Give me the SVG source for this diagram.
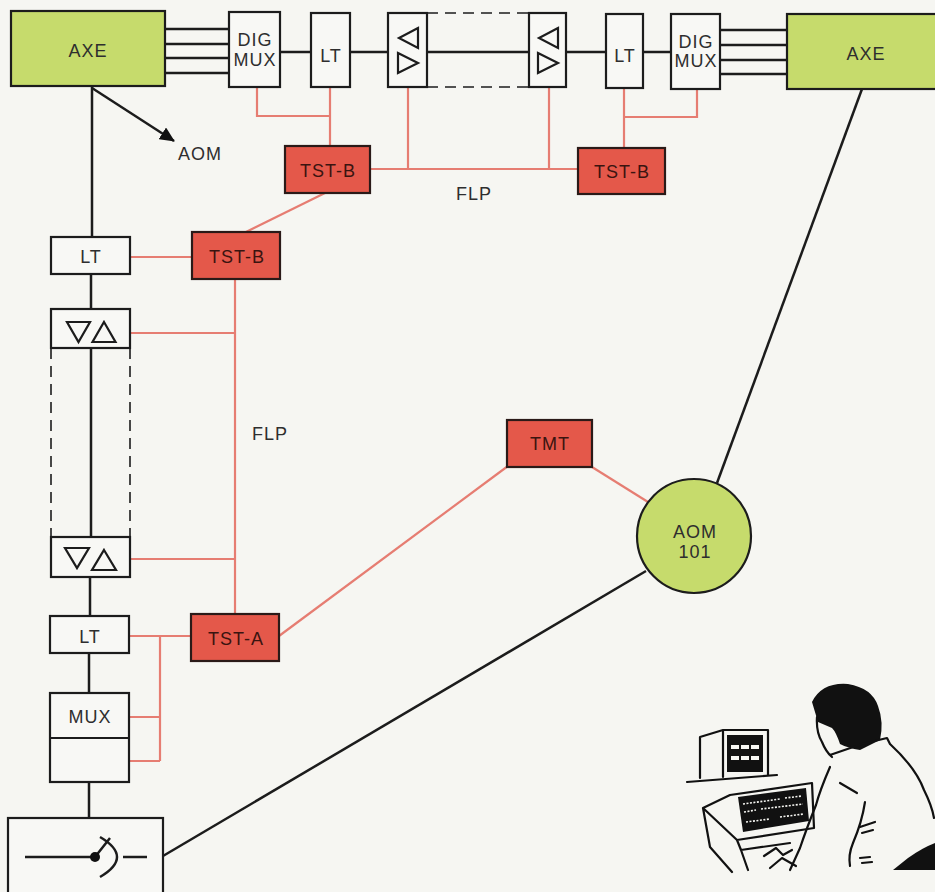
<svg xmlns="http://www.w3.org/2000/svg" width="935" height="892" viewBox="0 0 935 892">
  <style>
    .bg { fill: #f6f6f2; }
    .box { fill: #f8f8f5; stroke: #1c1c1c; stroke-width: 2.2; }
    .axe { fill: #c6db6c; stroke: #1c1c1c; stroke-width: 2.2; }
    .tst { fill: #e4584a; stroke: #2a1a18; stroke-width: 2.2; }
    .blk { stroke: #1c1c1c; stroke-width: 2.5; fill: none; }
    .red { stroke: #e67d72; stroke-width: 2.2; fill: none; }
    .dash { stroke: #1c1c1c; stroke-width: 1.6; stroke-dasharray: 11 7; fill: none; }
    .tri { fill: none; stroke: #1c1c1c; stroke-width: 2.2; stroke-linejoin: miter; }
    .lbl { font-family: "Liberation Sans", Arial, sans-serif; font-size: 18px; letter-spacing: 1px; fill: #2e2e2e; text-anchor: middle; }
    .lblr { font-family: "Liberation Sans", Arial, sans-serif; font-size: 18px; letter-spacing: 1px; fill: #3a1410; text-anchor: middle; }
    .ink { fill: none; stroke: #111; stroke-width: 2.2; stroke-linejoin: round; stroke-linecap: round; }
  </style>
  <defs>
    <marker id="arrowhead" markerWidth="16" markerHeight="14" refX="14" refY="7" orient="auto" markerUnits="userSpaceOnUse">
      <path d="M0,0 L15,7 L0,14 z" fill="#111"/>
    </marker>
  </defs>

  <rect class="bg" x="0" y="0" width="935" height="892"/>

  <!-- connectors -->
  <g id="connectors">
    <!-- trunk lines between exchanges and multiplexers -->
    <path class="blk" d="M165,29 H229 M165,44 H229 M165,58 H229 M165,73 H229"/>
    <path class="blk" d="M720,30 H787 M720,45 H787 M720,60 H787 M720,74 H787"/>
    <path class="blk" d="M280,52 H311 M350,52 H388 M427,52 H529 M566,52 H606 M643,52 H671"/>
    <!-- dashed outline of the long line section -->
    <path class="dash" d="M427,13 H529 M427,87 H529"/>
    <!-- vertical line route -->
    <path class="blk" d="M92,87 V237 M91,274 V309 M91,348 V537 M90,577 V616 M89,653 V693 M89,782 V818"/>
    <path class="dash" d="M51,348 V537 M130,348 V537"/>
    <!-- link to AOM -->
    <line class="blk" x1="92" y1="88" x2="174" y2="141" marker-end="url(#arrowhead)"/>
    <!-- lines to AOM 101 -->
    <path class="blk" d="M163,856 L646,571"/>
    <path class="blk" d="M717,483 L862,89"/>

    <!-- test / supervision lines -->
    <path class="red" d="M257,87 V116 H330 M330,87 V146"/>
    <path class="red" d="M697,89 V117 H624 M624,88 V148"/>
    <path class="red" d="M370,169 H578 M408,87 V169 M549,87 V169"/>
    <path class="red" d="M325,193 L246,232"/>
    <path class="red" d="M130,257 H192"/>
    <path class="red" d="M235,279 V614 M130,333 H235 M130,559 H235"/>
    <path class="red" d="M129,636 H191 M160,636 V761 M129,717 H160 M129,761 H160"/>
    <path class="red" d="M279,636 L508,466"/>
    <path class="red" d="M592,467 L648,502"/>
  </g>

  <!-- exchanges -->
  <g id="axe-left">
    <rect class="axe" x="11" y="11" width="154" height="75"/>
    <text class="lbl" x="88" y="57" font-size="19">AXE</text>
  </g>
  <g id="axe-right">
    <rect class="axe" x="787" y="14" width="160" height="75"/>
    <text class="lbl" x="866" y="60" font-size="19">AXE</text>
  </g>

  <!-- upper route -->
  <g id="digmux-left">
    <rect class="box" x="229" y="12" width="51" height="75"/>
    <text class="lbl" x="255" y="46" letter-spacing="0.5">DIG</text>
    <text class="lbl" x="255" y="66" letter-spacing="0.5">MUX</text>
  </g>
  <g id="lt-top-left">
    <rect class="box" x="311" y="13" width="39" height="74"/>
    <text class="lbl" x="331" y="62">LT</text>
  </g>
  <g id="rep-top-left">
    <rect class="box" x="388" y="13" width="39" height="74"/>
    <path class="tri" d="M418,28 L399,38 L418,48 Z M398,53 L418,63 L398,73 Z"/>
  </g>
  <g id="rep-top-right">
    <rect class="box" x="529" y="13" width="37" height="74"/>
    <path class="tri" d="M558,28 L539,38 L558,48 Z M538,53 L558,63 L538,73 Z"/>
  </g>
  <g id="lt-top-right">
    <rect class="box" x="606" y="14" width="37" height="74"/>
    <text class="lbl" x="625" y="62">LT</text>
  </g>
  <g id="digmux-right">
    <rect class="box" x="671" y="14" width="49" height="75"/>
    <text class="lbl" x="696" y="48" letter-spacing="0.5">DIG</text>
    <text class="lbl" x="696" y="67" letter-spacing="0.5">MUX</text>
  </g>

  <!-- left route -->
  <g id="lt-left-1">
    <rect class="box" x="51" y="237" width="79" height="37"/>
    <text class="lbl" x="91" y="263">LT</text>
  </g>
  <g id="rep-left-1">
    <rect class="box" x="51" y="309" width="79" height="39"/>
    <path class="tri" d="M67,322 L90,322 L78.5,342 Z M104,322 L115.5,342 L92.5,342 Z"/>
  </g>
  <g id="rep-left-2">
    <rect class="box" x="51" y="537" width="79" height="40"/>
    <path class="tri" d="M65,548 L89,548 L77,568 Z M104,550 L116,570 L92,570 Z"/>
  </g>
  <g id="lt-left-2">
    <rect class="box" x="50" y="616" width="79" height="37"/>
    <text class="lbl" x="90" y="643">LT</text>
  </g>
  <g id="mux">
    <rect class="box" x="50" y="693" width="79" height="89"/>
    <line x1="50" y1="738" x2="129" y2="738" stroke="#1c1c1c" stroke-width="2.2"/>
    <text class="lbl" x="90" y="723">MUX</text>
  </g>
  <g id="switch">
    <rect class="box" x="8" y="818" width="155" height="90"/>
    <path class="blk" d="M25,857 H95 M95,857 L110,838 M100,837 Q134,857 100,877 M123,857 H147"/>
    <circle cx="95" cy="857" r="5" fill="#111"/>
  </g>

  <!-- test equipment -->
  <g id="tst-b-1">
    <rect class="tst" x="285" y="146" width="85" height="47"/>
    <text class="lblr" x="328" y="177">TST-B</text>
  </g>
  <g id="tst-b-2">
    <rect class="tst" x="578" y="148" width="87" height="46"/>
    <text class="lblr" x="622" y="178">TST-B</text>
  </g>
  <g id="tst-b-3">
    <rect class="tst" x="192" y="232" width="88" height="47"/>
    <text class="lblr" x="237" y="263">TST-B</text>
  </g>
  <g id="tst-a">
    <rect class="tst" x="191" y="614" width="88" height="47"/>
    <text class="lblr" x="236" y="645">TST-A</text>
  </g>
  <g id="tmt">
    <rect class="tst" x="507" y="420" width="85" height="47"/>
    <text class="lblr" x="550" y="450">TMT</text>
  </g>
  <g id="aom-101">
    <circle cx="694" cy="536" r="57" fill="#c6db6c" stroke="#1c1c1c" stroke-width="2.2"/>
    <text class="lbl" x="695" y="538">AOM</text>
    <text class="lbl" x="695" y="558">101</text>
  </g>

  <!-- labels -->
  <text class="lbl" x="200" y="160">AOM</text>
  <text class="lbl" x="474" y="200">FLP</text>
  <text class="lbl" x="270" y="440">FLP</text>

  <!-- operator at terminal -->
  <g id="operator">
    <!-- display unit on shelf -->
    <path class="ink" d="M687,782 L777,775"/>
    <path class="ink" d="M700,778 V737 L723,730 H768 V775 M723,730 V777"/>
    <rect x="727" y="735" width="36" height="37" fill="#111"/>
    <g fill="#f6f6f2">
      <rect x="731" y="745" width="8" height="4"/><rect x="741" y="745" width="8" height="4"/><rect x="751" y="745" width="8" height="4"/>
      <rect x="731" y="756" width="8" height="4"/><rect x="741" y="756" width="8" height="4"/><rect x="751" y="756" width="8" height="4"/>
    </g>
    <!-- keyboard terminal -->
    <path class="ink" d="M703,808 L730,795 L812,783 L814,828 L737,840 Z M703,808 L710,847 L732,872 M737,840 L741,850 L790,843 M741,850 L748,870"/>
    <path d="M738,797 L806,788 L809,821 L743,832 Z" fill="#111"/>
    <g stroke="#f6f6f2" stroke-width="1.6" stroke-dasharray="2 1.5">
      <path d="M743,804 L780,799 M785,798 L802,796"/>
      <path d="M744,812 L756,810 M761,809 L803,804"/>
      <path d="M746,822 L770,819 M780,817 L804,814"/>
    </g>
    <path class="ink" d="M764,856 L776,848 L783,855 L792,850 M770,868 L782,858 L796,866"/>
    <!-- person -->
    <path d="M812,702 Q822,682 848,684 Q872,688 878,706 Q884,722 880,740 L860,750 Q848,748 840,744 Q836,732 832,728 L818,722 Z" fill="#111"/>
    <path class="ink" d="M817,717 Q816,732 822,742 Q826,752 832,757 M830,755 L862,744 L887,738 L890,744 M890,744 Q916,768 924,790 Q932,806 934,818"/>
    <path class="ink" d="M830,767 Q820,790 816,805 Q806,830 800,848 L790,870"/>
    <path class="ink" d="M840,783 L857,793 M865,802 Q862,822 853,843 Q848,855 850,866 M860,827 L875,822 M862,833 L873,830 M860,858 L870,857 M862,863 L872,862"/>
    <path d="M893,870 L908,858 Q922,848 935,843 L935,870 Z" fill="#111"/>
  </g>
</svg>
